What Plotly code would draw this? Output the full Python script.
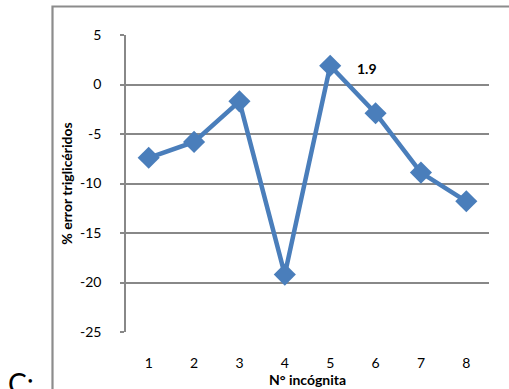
import plotly.graph_objects as go

categories = [1, 2, 3, 4, 5, 6, 7, 8]
error_values = [-7.4, -5.8, -1.7, -19.2, 1.9, -2.9, -8.9, -11.8]
y_ticks = [5, 0, -5, -10, -15, -20, -25]
y_tick_labels = ["5", "0", "-5", "-10", "-15", "-20", "-25"]
x_tick_labels = ["1", "2", "3", "4", "5", "6", "7", "8"]
label_index = 4

W, H = 509, 389
L, R, T, B = 126, 509 - 489, 35, 389 - 332
pw, ph = W - L - R, H - T - B

def px_x(p):
    return (p - L) / pw

def px_y(p):
    return (H - B - p) / ph

blue = "#4A7EBB"
grid = "#888888"
font = "Lato, Calibri, Arial, sans-serif"
fs = 14

fig = go.Figure()
fig.add_trace(go.Scatter(
    x=categories, y=error_values, mode="lines+markers",
    line=dict(color=blue, width=4.5),
    marker=dict(symbol="diamond", size=17, color=blue, line=dict(width=0)),
    showlegend=False, hoverinfo="skip",
))

fig.add_annotation(
    x=categories[label_index], y=error_values[label_index],
    text="<b>%s</b>" % error_values[label_index], showarrow=False,
    xshift=37, yshift=-3, font=dict(family=font, size=fs, color="black"),
)

# outer border (partial frame)
fig.add_shape(type="path", xref="paper", yref="paper",
              path="M %f %f L %f %f L %f %f" % (px_x(52.5), px_y(420), px_x(52.5), px_y(6.5), px_x(540), px_y(6.5)),
              line=dict(color="#8C8C8C", width=2.2), layer="above")

fig.add_annotation(xref="paper", yref="paper", x=px_x(6), y=px_y(364), xanchor="left", yanchor="top",
                   text="C:", showarrow=False, font=dict(family=font, size=28, color="black"))

fig.update_layout(
    width=W, height=H,
    margin=dict(l=L, r=R, t=T, b=B, autoexpand=False),
    paper_bgcolor="white", plot_bgcolor="white",
    font=dict(family=font, size=fs, color="black"),
    xaxis=dict(
        range=[0.5, 8.5], tickvals=categories, ticktext=x_tick_labels,
        showgrid=False, zeroline=False, showline=False,
        ticks="", ticklabelstandoff=21, automargin=False,
        tickfont=dict(family=font, size=fs),
        title=dict(text="<b>N° incógnita</b>", font=dict(family=font, size=fs), standoff=0),
    ),
    yaxis=dict(
        range=[-25, 5], tickvals=y_ticks, ticktext=y_tick_labels,
        showgrid=True, gridcolor=grid, gridwidth=1.5,
        zeroline=True, zerolinecolor=grid, zerolinewidth=1.5,
        showline=True, linecolor=grid, linewidth=1.5,
        ticks="outside", ticklen=4, tickcolor=grid, tickwidth=1.5,
        ticklabelstandoff=16, automargin=False,
        tickfont=dict(family=font, size=fs),
        title=dict(text="<b>% error triglicéridos</b>", font=dict(family=font, size=fs), standoff=4),
    ),
)

fig.write_html("out.html", config={"displayModeBar": False},
               post_script="document.body.style.margin='0';document.body.style.overflow='hidden';")
